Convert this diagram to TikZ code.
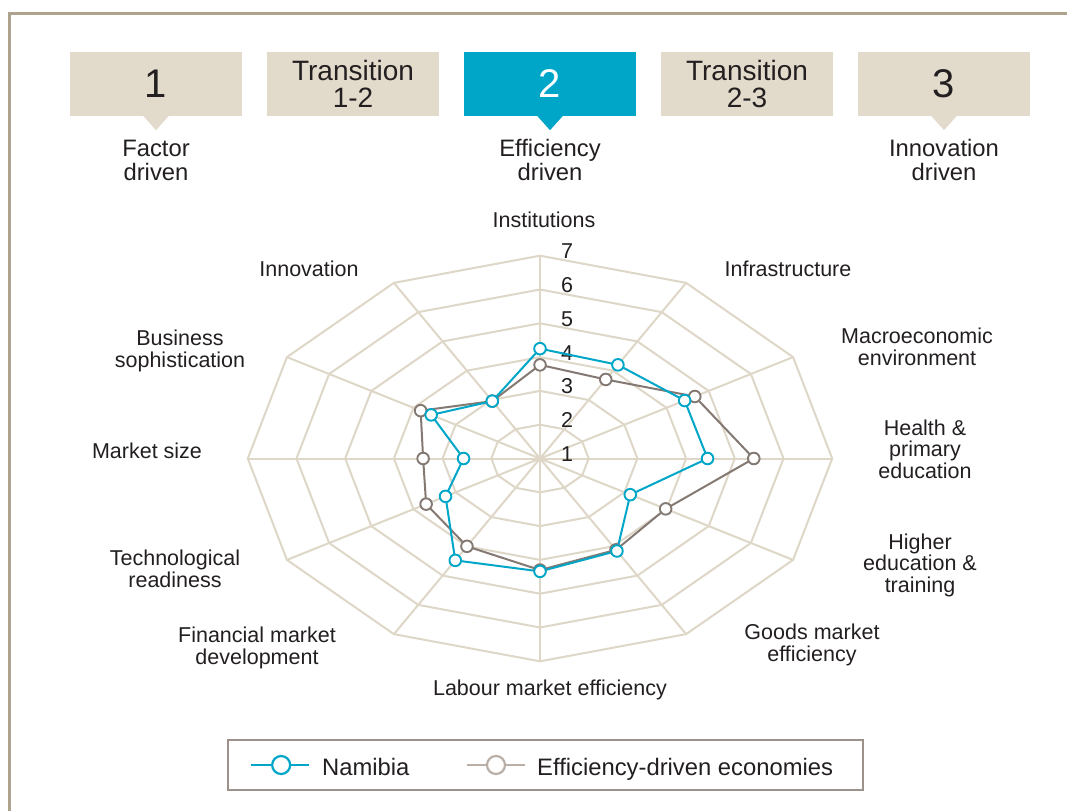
\documentclass[tikz,border=0pt]{standalone}
\usepackage{fontspec}
\setmainfont{Liberation Sans}
\usetikzlibrary{calc}

\definecolor{gridbeige}{RGB}{222,215,199}
\definecolor{boxbeige}{RGB}{226,219,203}
\definecolor{namblue}{RGB}{0,166,200}
\definecolor{edegray}{RGB}{132,121,114}
\definecolor{edelight}{RGB}{186,175,167}
\definecolor{frametan}{RGB}{174,163,140}
\definecolor{legframe}{RGB}{156,146,139}
\definecolor{txt}{RGB}{35,31,32}

\tikzset{
  stagebox/.style={fill=boxbeige, minimum width=172pt, minimum height=64pt, inner sep=0pt, text=txt, align=center},
  stagetext/.style={align=center, text=txt, font=\fontsize{23.8}{24}\selectfont},
  axislabel/.style={align=center, text=txt, inner sep=0pt, font=\fontsize{21.5}{21.5}\selectfont},
  gridline/.style={draw=gridbeige, line width=2pt},
  namline/.style={draw=namblue, line width=2pt, line join=round},
  edeline/.style={draw=edegray, line width=2pt, line join=round},
  namdot/.style={draw=namblue, fill=white, line width=1.9pt},
  ededot/.style={draw=edegray, fill=white, line width=1.9pt},
}

\begin{document}
\begin{tikzpicture}[x=1pt, y=-1pt]
    \useasboundingbox (0,0) rectangle (1067,811);

    % Outer frame (only top and left edges show)
    \draw[frametan, line width=3pt] (9,811) -- (9,13) -- (1067,13);

    % --- Stage boxes ---
    \node[stagebox, font=\fontsize{40}{40}\selectfont] (s1) at (156,84) {1};
    \node[stagebox, font=\fontsize{28}{27}\selectfont] (t12) at (353,84) {Transition\\1-2};
    \node[stagebox, fill=namblue, text=white, font=\fontsize{40}{40}\selectfont] (s2) at (550,84) {2};
    \node[stagebox, font=\fontsize{28}{27}\selectfont] (t23) at (747,84) {Transition\\2-3};
    \node[stagebox, font=\fontsize{40}{40}\selectfont] (s3) at (944,84) {3};

    % Pointers under the three stages
    \fill[boxbeige] ($(s1.south)+(-13,-0.5)$) -- ($(s1.south)+(13,-0.5)$) -- ($(s1.south)+(0,14)$) -- cycle;
    \fill[namblue] ($(s2.south)+(-13,-0.5)$) -- ($(s2.south)+(13,-0.5)$) -- ($(s2.south)+(0,14)$) -- cycle;
    \fill[boxbeige] ($(s3.south)+(-13,-0.5)$) -- ($(s3.south)+(13,-0.5)$) -- ($(s3.south)+(0,14)$) -- cycle;

    \node[stagetext] (f1) at (156,160) {Factor\\driven};
    \node[stagetext] (f2) at (550,160) {Efficiency\\driven};
    \node[stagetext] (f3) at (944,160) {Innovation\\driven};

    % --- Radar chart ---
    \coordinate (ctr) at (540,458.5);
    \begin{scope}[shift={(ctr)}, x=48.7pt, y=33.8pt]
        % spokes and rings
        \foreach \a in {0,30,...,330}
            \draw[gridline] (0,0) -- (\a:6);
        \foreach \r in {1,...,6}
            \draw[gridline, line join=miter] (0:\r) \foreach \a in {30,60,...,330} { -- (\a:\r) } -- cycle;

        % scale values
        \foreach \r/\v in {0/1,1/2,2/3,3/4,4/5,5/6,6/7}
            \node[axislabel, xshift=27pt, yshift=4.5pt] (v\v) at (0,\r) {\v};

        % Efficiency-driven economies
        \foreach \i/\a/\r in {1/90/2.77, 2/60/2.7, 3/30/3.67, 4/0/4.39, 5/-30/2.98, 6/-60/3.12,
                              7/-90/3.3, 8/-120/3.0, 9/-150/2.7, 10/180/2.4, 11/150/2.83, 12/120/1.96}
            \coordinate (e\i) at (\a:\r);
        % Namibia
        \foreach \i/\a/\r in {1/90/3.25, 2/60/3.2, 3/30/3.43, 4/0/3.44, 5/-30/2.14, 6/-60/3.16,
                              7/-90/3.34, 8/-120/3.48, 9/-150/2.24, 10/180/1.57, 11/150/2.58, 12/120/1.96}
            \coordinate (n\i) at (\a:\r);

        \draw[edeline] (e1) \foreach \i in {2,...,12} { -- (e\i) } -- cycle;
        \draw[namline] (n1) \foreach \i in {2,...,12} { -- (n\i) } -- cycle;
        \foreach \i in {1,...,12}
            \draw[ededot] (e\i) circle (5.8pt);
        \foreach \i in {1,...,12}
            \draw[namdot] (n\i) circle (5.8pt);
    \end{scope}

    % Axis labels
    \node[axislabel] (l1) at (544,220) {Institutions};
    \node[axislabel] (l2) at (788,269) {Infrastructure};
    \node[axislabel] (l3) at (917,347) {Macroeconomic\\environment};
    \node[axislabel] (l4) at (925,449) {Health \&\\primary\\education};
    \node[axislabel] (l5) at (920,565) {Higher\\education \&\\training};
    \node[axislabel] (l6) at (812,645) {Goods market\\efficiency};
    \node[axislabel] (l7) at (550,690) {Labour market efficiency};
    \node[axislabel] (l8) at (257,648) {Financial market\\development};
    \node[axislabel] (l9) at (175,569) {Technological\\readiness};
    \node[axislabel] (l10) at (147,451) {Market size};
    \node[axislabel] (l11) at (180,351) {Business\\sophistication};
    \node[axislabel] (l12) at (309,269) {Innovation};

    % --- Legend ---
    \node[draw=legframe, line width=2pt, minimum width=635pt, minimum height=50pt, inner sep=0pt] (leg) at (545.5,765) {};
    \coordinate (k1a) at (251,765);
    \coordinate (k1b) at (309,765);
    \coordinate (k2a) at (467,765);
    \coordinate (k2b) at (525,765);
    \draw[namblue, line width=2.2pt] (k1a) -- (k1b);
    \draw[namblue, line width=2.2pt, fill=white] ($(k1a)!0.52!(k1b)$) circle (9pt);
    \draw[edelight, line width=2.2pt] (k2a) -- (k2b);
    \draw[edelight, line width=2.2pt, fill=white] ($(k2a)!0.5!(k2b)$) circle (9pt);
    \node[anchor=base west, inner sep=0pt, text=txt, font=\fontsize{23.8}{24}\selectfont] (kn) at (322,775) {Namibia};
    \node[anchor=base west, inner sep=0pt, text=txt, font=\fontsize{23.8}{24}\selectfont] (ke) at (537,775) {Efficiency-driven economies};
\end{tikzpicture}
\end{document}
